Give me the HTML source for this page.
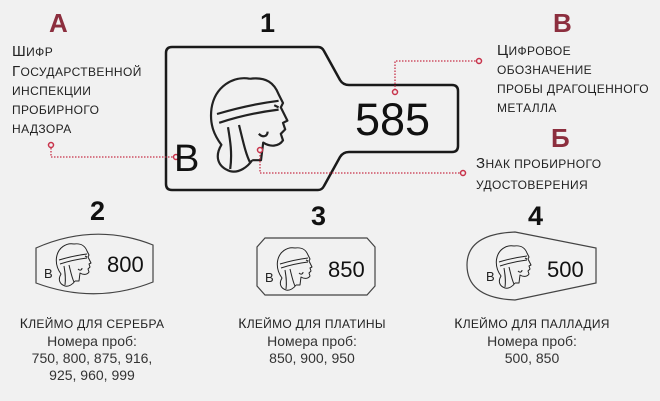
<!DOCTYPE html>
<html><head><meta charset="utf-8"><style>
body{margin:0;width:660px;height:401px;background:#f1f1f1;overflow:hidden;position:relative;font-family:"Liberation Sans",sans-serif;color:#222}
.t{position:absolute;white-space:nowrap}
.big{font-weight:bold;font-size:27px;color:#111}
.red{color:#8c2e3e;font-weight:bold;font-size:26px}
.sc{text-transform:uppercase;font-size:12px;line-height:19px;letter-spacing:.4px}
.sc b{font-weight:normal;font-size:15px}
.cap{font-size:12px;text-align:center;width:200px;line-height:17px;letter-spacing:.3px}
.cap i{font-style:normal;text-transform:uppercase}
.cap b{font-weight:normal;font-size:14px}
.cap span{display:block;color:#333;letter-spacing:0;font-family:"Liberation Sans Narrow","Liberation Sans",sans-serif;font-size:14px}
.n{font-size:22px;font-family:'Liberation Sans Narrow','Liberation Sans',sans-serif;color:#111}
</style></head><body>
<svg width="660" height="401" style="position:absolute;left:0;top:0">
<defs>
<g id="head" fill="none" stroke="#222" stroke-width="2" stroke-linejoin="round">
<path d="M40 8 C25 5 8 15 5 35 C3 50 8 60 14 68 C8 78 10 88 22 92 C30 94 38 88 42 82"/>
<path d="M40 8 C55 6 62 12 66 22 L70 30 L68 34 L74 46 L70 48 L72 54 L68 58 L70 64 C66 70 58 70 52 66 L50 82 L42 82"/>
<path d="M10 40 C30 34 50 30 66 28 M12 48 C30 42 50 38 66 36"/>
<path d="M20 52 C22 64 24 76 22 90 M30 50 C34 66 36 76 40 84"/>
<path d="M48 58 C52 62 56 60 56 56"/>
<path d="M62 32 L66 34"/>
</g>
</defs>
<path d="M172 47 H318 Q322 47 324 51 L340 80 Q343 85 349 85 H452 Q458 85 458 91 V146 Q458 152 452 152 H349 Q343 152 340 157 L324 186 Q322 190 318 190 H172 Q166 190 166 184 V53 Q166 47 172 47 Z" fill="none" stroke="#1a1a1a" stroke-width="2.5"/>
<use href="#head" transform="translate(206,70) scale(1.1)"/>
<g fill="none" stroke="#c8324a" stroke-width="1.3" stroke-dasharray="1.5 1.5">
<path d="M51 148 V157 H173"/>
<path d="M395 90 V61 H476"/>
<path d="M260 152 V173 H460"/>
</g>
<g fill="#f1f1f1" stroke="#c8324a" stroke-width="1.5">
<circle cx="51" cy="145" r="2.5"/><circle cx="176" cy="157" r="2.5"/>
<circle cx="395" cy="92" r="2.5"/><circle cx="479" cy="61" r="2.5"/>
<circle cx="260" cy="150" r="2.5"/><circle cx="463" cy="173" r="2.5"/>
</g>
<path d="M36 248 Q95 222 153 245 V282 Q95 305 36 283 Z" fill="none" stroke="#444" stroke-width="1.2"/>
<use href="#head" transform="translate(54,240) scale(0.5)"/>
<path d="M265 238 H367 L375 247 V286 L367 295 H265 L257 286 V247 Z" fill="none" stroke="#444" stroke-width="1.2"/>
<use href="#head" transform="translate(275,244) scale(0.5)"/>
<path d="M515 232 L596 248 V283 L515 300 Q467 298 467 265 Q467 234 515 232 Z" fill="none" stroke="#444" stroke-width="1.2"/>
<use href="#head" transform="translate(494,242) scale(0.5)"/>
</svg>
<div class="t red" style="left:49px;top:8px">A</div>
<div class="t big" style="left:260px;top:8px">1</div>
<div class="t red" style="left:553px;top:8px">В</div>
<div class="t red" style="left:551px;top:123px">Б</div>
<div class="t sc" style="left:12px;top:42px"><b>Ш</b>ифр<br><b>Г</b>осударственной<br>инспекции<br>пробирного<br>надзора</div>
<div class="t sc" style="left:497px;top:41px"><b>Ц</b>ифровое<br>обозначение<br>пробы драгоценного<br>металла</div>
<div class="t sc" style="left:476px;top:153px;line-height:21px"><b>З</b>нак пробирного<br>удостоверения</div>
<div class="t" style="left:355px;top:94px;font-size:45px;color:#111">585</div>
<div class="t" style="left:174px;top:138px;font-size:38px;color:#111">B</div>
<div class="t big" style="left:90px;top:196px">2</div>
<div class="t big" style="left:311px;top:201px">3</div>
<div class="t big" style="left:528px;top:201px">4</div>
<div class="t" style="left:44px;top:266px;font-size:13px">B</div>
<div class="t n" style="left:107px;top:252px">800</div>
<div class="t" style="left:265px;top:270px;font-size:13px">B</div>
<div class="t n" style="left:328px;top:257px">850</div>
<div class="t" style="left:486px;top:269px;font-size:13px">B</div>
<div class="t n" style="left:547px;top:257px">500</div>
<div class="t cap" style="left:-8px;top:315px"><i><b>К</b>леймо для серебра</i><span>Номера проб:<br>750, 800, 875, 916,<br>925, 960, 999</span></div>
<div class="t cap" style="left:212px;top:315px"><i><b>К</b>леймо для платины</i><span>Номера проб:<br>850, 900, 950</span></div>
<div class="t cap" style="left:432px;top:315px"><i><b>К</b>леймо для палладия</i><span>Номера проб:<br>500, 850</span></div>
</body></html>
